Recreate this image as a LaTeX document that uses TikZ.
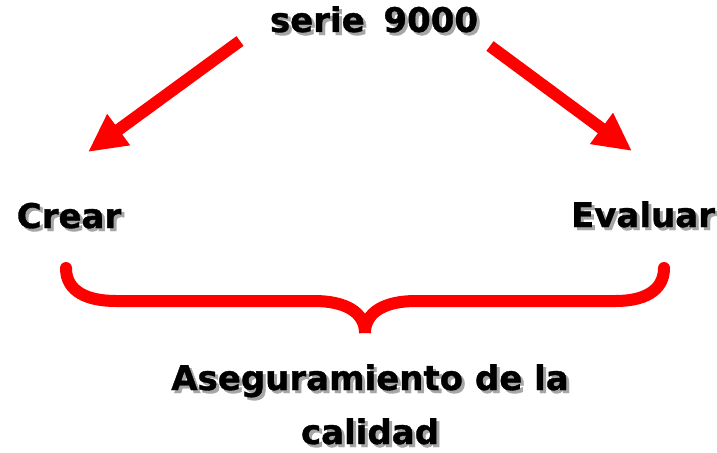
\documentclass[tikz,border=0pt]{standalone}
\usepackage{fontspec}
\setmainfont{DejaVu Sans}[BoldFeatures={FakeBold=1}]
\usetikzlibrary{arrows.meta}
\newcommand\shtext[1]{\leavevmode\rlap{\kern2.25pt\raisebox{-2.25pt}{\color{black!35}#1}}#1}
\begin{document}
\begin{tikzpicture}[x=0.75pt,y=-0.75pt,
  lbl/.style={font=\fontsize{25.5pt}{40.5pt}\selectfont\bfseries, inner sep=0pt, anchor=base, text=black, align=center},
  arr/.style={draw=red, line width=9pt, -{Triangle[length=28.5pt,width=27pt]}},
  brace/.style={draw=red, line width=9pt}]
\useasboundingbox (0,0) rectangle (717,453);
% texts
\node[lbl] (serie) at (374,32) {\shtext{serie\hspace{14pt}9000}};
\node[lbl] (crear) at (69,228) {\shtext{Crear}};
\node[lbl] (evaluar) at (643,227) {\shtext{Evaluar}};
\node[lbl] (aseg) at (370,444) {\shtext{Aseguramiento de la}\\\shtext{calidad}};
% arrows
\coordinate (a1s) at (240,41);
\coordinate (a1t) at (88,152);
\coordinate (a2s) at (490,46);
\coordinate (a2t) at (632,151);
\draw[arr] (a1s) -- (a1t);
\draw[arr] (a2s) -- (a2t);
% brace
\coordinate (bl) at (66,268);
\coordinate (bm) at (365,333);
\coordinate (br) at (664,268);
\draw[brace] (bl) .. controls (66,292) and (88,301) .. (116,301) -- (314,301) .. controls (345,301) and (365,312) .. (bm);
\draw[brace] (br) .. controls (664,292) and (642,301) .. (616,301) -- (416,301) .. controls (385,301) and (365,312) .. (bm);
\fill[red] (bl) circle[radius=4.5pt];
\fill[red] (br) circle[radius=4.5pt];
\end{tikzpicture}
\end{document}
